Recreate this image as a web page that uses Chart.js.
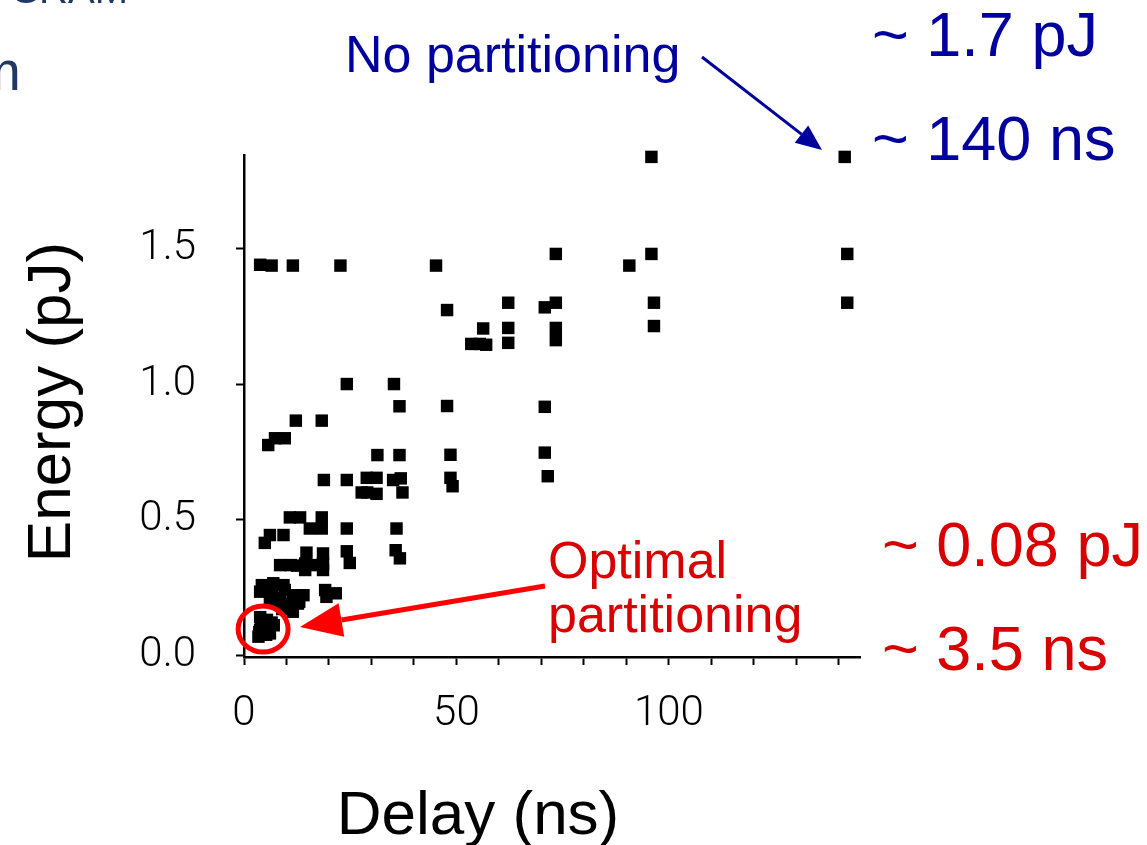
<!DOCTYPE html>
<html>
<head>
<meta charset="utf-8">
<script src="https://cdn.jsdelivr.net/npm/chart.js@4.4.1/dist/chart.umd.min.js"></script>
<style>
  html, body { margin: 0; padding: 0; background: #fff; }
</style>
</head>
<body>
<canvas id="chart" width="1147" height="845"></canvas>
<script>
// partition results
const delayNs = [
  95.9, 141.4, 73.4, 95.9, 142.0, 90.7, 45.2, 22.7, 11.5, 6.5, 3.8,
  62.2, 70.8, 73.4, 96.5, 142.0, 47.8, 62.2, 73.4, 96.5, 56.3, 62.2, 73.4,
  53.5, 55.5, 57.0, 70.8, 70.8, 71.5, 47.8, 36.6, 24.2, 35.3, 48.6, 48.6,
  49.1, 36.6, 31.4, 12.2, 18.3, 7.3, 9.6, 5.7, 18.8, 24.2, 28.9, 31.2,
  35.1, 36.9, 27.7, 31.2, 29.0, 37.3, 10.8, 13.2, 18.3, 15.5, 18.3, 24.2,
  35.9, 6.1, 9.3, 4.9, 14.7, 18.6, 24.2, 35.7, 36.7, 24.9, 14.4, 14.4,
  18.6, 18.6, 8.5, 11.0, 12.5, 16.5, 19.1, 21.6, 14.0, 4.2, 6.9, 9.3,
  3.8, 6.6, 9.6, 11.5, 13.0, 6.1, 8.5, 10.8, 12.7, 9.0, 11.5, 19.4,
  3.8, 5.4, 3.8, 6.1, 3.4, 7.0, 5.0, 4.5, 5.8, 4.0, 6.5, 3.6, 5.2
];
const energyPj = [
  1.838, 1.838, 1.48, 1.48, 1.48, 1.437, 1.437, 1.437, 1.437, 1.437, 1.44,
  1.30, 1.283, 1.30, 1.30, 1.30, 1.273, 1.207, 1.207, 1.214, 1.205, 1.152, 1.162,
  1.148, 1.148, 1.145, 0.916, 0.747, 0.66, 0.919, 0.918, 1.0, 1.0, 0.739, 0.654,
  0.623, 0.738, 0.738, 0.865, 0.865, 0.80, 0.80, 0.775, 0.646, 0.646, 0.654, 0.654,
  0.646, 0.652, 0.60, 0.595, 0.60, 0.60, 0.508, 0.508, 0.508, 0.467, 0.467, 0.467,
  0.467, 0.443, 0.443, 0.414, 0.378, 0.375, 0.383, 0.387, 0.357, 0.34, 0.338, 0.314,
  0.338, 0.314, 0.332, 0.332, 0.33, 0.332, 0.24, 0.228, 0.221, 0.258, 0.265, 0.258,
  0.234, 0.234, 0.24, 0.221, 0.197, 0.197, 0.21, 0.19, 0.19, 0.17, 0.16, 0.215,
  0.14, 0.13, 0.092, 0.08, 0.068, 0.11, 0.105, 0.115, 0.095, 0.12, 0.12, 0.085, 0.075
];
const xTickValues = [0, 10, 20, 30, 40, 50, 60, 70, 80, 90, 100, 110, 120, 130, 140];
const xLabelValues = [0, 50, 100];
const yTickValues = [0, 0.5, 1.0, 1.5];

const points = delayNs.map((d, i) => ({ x: d, y: energyPj[i] }));

function arrow(ctx, x1, y1, x2, y2, color, lw, headLen, headHalf) {
  const a = Math.atan2(y2 - y1, x2 - x1);
  const bx = x2 - Math.cos(a) * headLen;
  const by = y2 - Math.sin(a) * headLen;
  ctx.save();
  ctx.strokeStyle = color;
  ctx.fillStyle = color;
  ctx.lineWidth = lw;
  ctx.beginPath();
  ctx.moveTo(x1, y1);
  ctx.lineTo(bx, by);
  ctx.stroke();
  ctx.beginPath();
  ctx.moveTo(x2, y2);
  ctx.lineTo(bx + Math.sin(a) * headHalf, by - Math.cos(a) * headHalf);
  ctx.lineTo(bx - Math.sin(a) * headHalf, by + Math.cos(a) * headHalf);
  ctx.closePath();
  ctx.fill();
  ctx.restore();
}

const notes = {
  id: "notes",
  afterDatasetsDraw(chart) {
    const ctx = chart.ctx;
    const xs = chart.scales.x, ys = chart.scales.y;
    ctx.save();
    ctx.textBaseline = "alphabetic";

    // bits of the slide text cut off at the left edge
    ctx.fillStyle = "#1f3864";
    ctx.font = "40px 'Liberation Sans', Arial, sans-serif";
    ctx.textAlign = "right";
    ctx.fillText("SRAM", 128, 3);
    ctx.font = "56px 'Liberation Sans', Arial, sans-serif";
    ctx.fillText("m", 21, 90);

    // axis titles
    ctx.fillStyle = "#000";
    ctx.font = "62px 'Liberation Sans', Arial, sans-serif";
    ctx.textAlign = "center";
    ctx.fillText("Delay (ns)", 478, 834);
    ctx.save();
    ctx.translate(70, 402);
    ctx.rotate(-Math.PI / 2);
    ctx.fillText("Energy (pJ)", 0, 0);
    ctx.restore();

    // no partitioning
    ctx.textAlign = "left";
    ctx.fillStyle = "#00009c";
    ctx.font = "52px 'Liberation Sans', Arial, sans-serif";
    ctx.fillText("No partitioning", 345, 72);
    ctx.font = "63px 'Liberation Sans', Arial, sans-serif";
    ctx.fillText("~ 1.7 pJ", 872, 56);
    ctx.fillText("~ 140 ns", 872, 160);
    arrow(ctx, 702, 57, 822, 150, "#00009c", 3, 26, 11);

    // optimal partitioning
    ctx.fillStyle = "#d80000";
    ctx.font = "52px 'Liberation Sans', Arial, sans-serif";
    ctx.fillText("Optimal", 548, 578);
    ctx.fillText("partitioning", 548, 632);
    ctx.font = "63px 'Liberation Sans', Arial, sans-serif";
    ctx.fillText("~ 0.08 pJ", 882, 566);
    ctx.fillText("~ 3.5 ns", 882, 670);

    const cx = xs.getPixelForValue(4.5), cy = ys.getPixelForValue(0.096);
    ctx.strokeStyle = "#ff0000";
    ctx.lineWidth = 5;
    ctx.beginPath();
    ctx.ellipse(cx, cy, 25, 23, 0, 0, Math.PI * 2);
    ctx.stroke();
    arrow(ctx, 545, 586, 300, 627, "#ff0000", 5, 42, 17);
    ctx.restore();
  }
};

new Chart(document.getElementById("chart"), {
  type: "scatter",
  data: {
    datasets: [{
      data: points,
      pointStyle: "rect",
      pointRadius: 8.8,
      pointHoverRadius: 8.8,
      backgroundColor: "#000",
      borderColor: "#000",
      borderWidth: 0,
      clip: false
    }]
  },
  options: {
    responsive: false,
    animation: false,
    events: [],
    layout: { padding: { left: 0, top: 155, right: 287, bottom: 0 } },
    plugins: { legend: { display: false }, tooltip: { enabled: false } },
    scales: {
      x: {
        type: "linear",
        min: 0,
        max: 145,
        afterFit: (s) => { s.height = 188; },
        afterBuildTicks: (s) => { s.ticks = xTickValues.map((v) => ({ value: v })); },
        border: { display: true, color: "#000", width: 2.5 },
        grid: { drawOnChartArea: false, drawTicks: true, tickLength: 8, tickColor: "#000", tickWidth: 2 },
        ticks: {
          autoSkip: false,
          maxRotation: 0,
          padding: 24,
          color: "#000",
          font: { family: "Roboto", size: 42, weight: 300 },
          callback: (v) => (xLabelValues.includes(v) ? String(v) : "")
        }
      },
      y: {
        type: "linear",
        min: -0.007,
        max: 1.845,
        afterFit: (s) => { s.width = 244; },
        afterBuildTicks: (s) => { s.ticks = yTickValues.map((v) => ({ value: v })); },
        border: { display: true, color: "#000", width: 2.5 },
        grid: { drawOnChartArea: false, drawTicks: true, tickLength: 8, tickColor: "#000", tickWidth: 2 },
        ticks: {
          padding: 40,
          color: "#000",
          font: { family: "Roboto", size: 42, weight: 300 },
          callback: (v) => v.toFixed(1)
        }
      }
    }
  },
  plugins: [notes]
});
</script>
</body>
</html>
